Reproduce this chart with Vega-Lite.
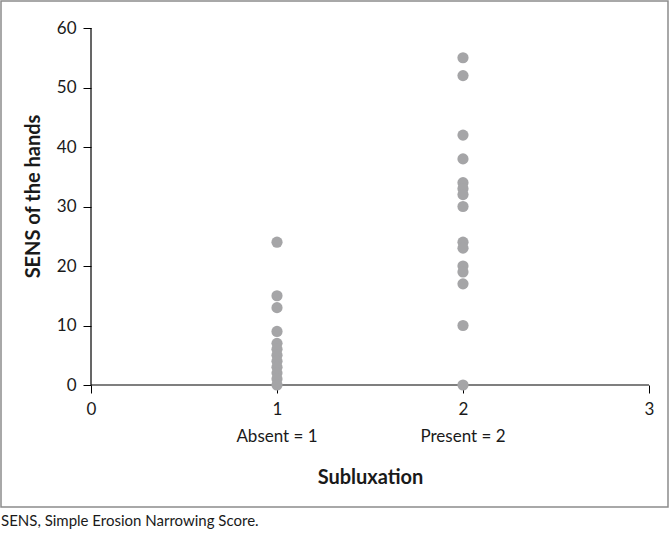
{
  "$schema": "https://vega.github.io/schema/vega-lite/v6.json",
  "width": 667,
  "height": 506,
  "autosize": {"type": "none"},
  "padding": {"left": 1, "top": 1, "right": 2, "bottom": 29},
  "background": "white",
  "config": {
    "view": {"stroke": "#8c8c8c", "strokeWidth": 1.5},
    "font": "Lato",
    "axis": {"grid": false, "domain": false, "tickColor": "#000000", "tickSize": 8, "labelFont": "Lato", "labelFontSize": 17, "labelColor": "#1a1a1a", "titleFont": "Lato", "titleFontSize": 20, "titleFontWeight": "bold", "titleColor": "#1a1a1a"}
  },
  "title": {"text": "SENS, Simple Erosion Narrowing Score.", "orient": "bottom", "anchor": "start", "frame": "group", "offset": 7, "fontSize": 15, "fontWeight": "normal", "font": "Lato", "color": "#1a1a1a"},
  "data": {"values": [
    {"subluxation": 1, "sens": 24},
    {"subluxation": 1, "sens": 15},
    {"subluxation": 1, "sens": 13},
    {"subluxation": 1, "sens": 9},
    {"subluxation": 1, "sens": 7},
    {"subluxation": 1, "sens": 6},
    {"subluxation": 1, "sens": 5},
    {"subluxation": 1, "sens": 4},
    {"subluxation": 1, "sens": 3},
    {"subluxation": 1, "sens": 2},
    {"subluxation": 1, "sens": 1},
    {"subluxation": 1, "sens": 0},
    {"subluxation": 2, "sens": 55},
    {"subluxation": 2, "sens": 52},
    {"subluxation": 2, "sens": 42},
    {"subluxation": 2, "sens": 38},
    {"subluxation": 2, "sens": 34},
    {"subluxation": 2, "sens": 33},
    {"subluxation": 2, "sens": 32},
    {"subluxation": 2, "sens": 30},
    {"subluxation": 2, "sens": 24},
    {"subluxation": 2, "sens": 23},
    {"subluxation": 2, "sens": 20},
    {"subluxation": 2, "sens": 19},
    {"subluxation": 2, "sens": 17},
    {"subluxation": 2, "sens": 10},
    {"subluxation": 2, "sens": 0}
  ]},
  "layer": [
    {
      "data": {"values": [{}]},
      "mark": {"type": "rule", "color": "#000000", "strokeWidth": 1.2},
      "encoding": {
        "x": {"datum": 0, "type": "quantitative", "scale": {"domain": [-0.4839, 3.1022], "nice": false, "zero": false},
              "axis": {"values": [0, 1, 2, 3], "format": "d", "offset": -122, "labelPadding": 8, "title": "Subluxation", "titleX": 369, "titleY": 92, "titleAlign": "center", "titleBaseline": "middle"}},
        "x2": {"datum": 3},
        "y": {"datum": 0, "type": "quantitative", "scale": {"domain": [-20.504, 64.538], "nice": false, "zero": false},
              "axis": {"values": [0, 10, 20, 30, 40, 50, 60], "format": "d", "offset": -90, "labelPadding": 7, "title": "SENS of the hands", "titleAngle": -90, "titleX": -58, "titleY": 195, "titleAlign": "center", "titleBaseline": "middle"}}
      }
    },
    {
      "data": {"values": [{}]},
      "mark": {"type": "rule", "color": "#000000", "strokeWidth": 1.2},
      "encoding": {
        "x": {"datum": 0, "type": "quantitative"},
        "y": {"datum": 0, "type": "quantitative"},
        "y2": {"datum": 60}
      }
    },
    {
      "data": {"values": [{"label": "Absent  = 1", "pos": 1}, {"label": "Present = 2", "pos": 2}]},
      "mark": {"type": "text", "fontSize": 17, "font": "Lato", "color": "#1a1a1a", "baseline": "middle", "align": "center"},
      "encoding": {
        "x": {"field": "pos", "type": "quantitative"},
        "y": {"datum": -8.74, "type": "quantitative"},
        "text": {"field": "label"}
      }
    },
    {
      "mark": {"type": "point", "filled": true, "color": "#a5a5a7", "opacity": 1, "size": 125},
      "encoding": {
        "x": {"field": "subluxation", "type": "quantitative"},
        "y": {"field": "sens", "type": "quantitative"}
      }
    }
  ]
}
